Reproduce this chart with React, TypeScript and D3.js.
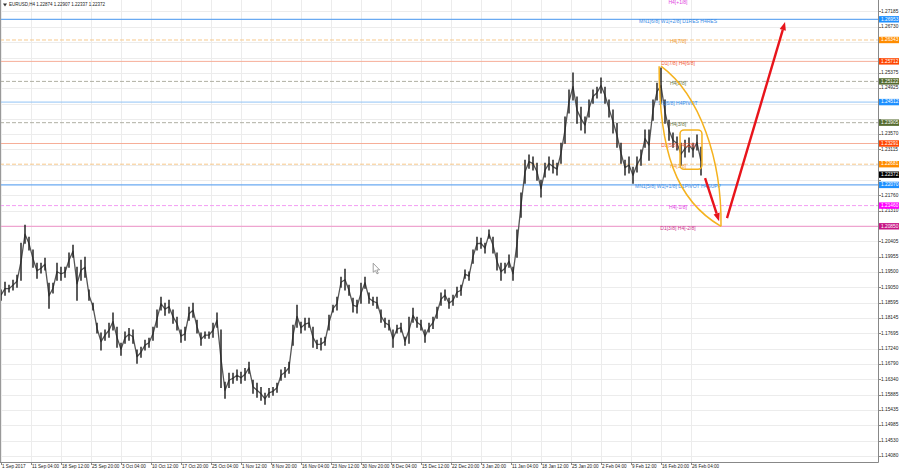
import React from "react";
import * as d3 from "d3";

// ---- data (EURUSD H4, each sample aggregates ~4 H4 bars) ----
const highs = [
  1.1897, 1.1920, 1.1911, 1.1926, 1.1941, 1.2035, 1.2088, 1.2053, 1.2015, 1.1976,
  1.1976, 1.1991, 1.1917, 1.1917, 1.1976, 1.1964, 1.1964, 1.2006, 1.2029, 1.1964,
  1.1985, 1.1994, 1.1897, 1.1858, 1.1799, 1.1770, 1.1779, 1.1799, 1.1829, 1.1787,
  1.1740, 1.1773, 1.1784, 1.1779, 1.1720, 1.1728, 1.1749, 1.1755, 1.1787, 1.1838,
  1.1876, 1.1858, 1.1867, 1.1838, 1.1817, 1.1779, 1.1787, 1.1846, 1.1858, 1.1808,
  1.1770, 1.1773, 1.1773, 1.1799, 1.1829, 1.1779, 1.1625, 1.1652, 1.1652, 1.1661,
  1.1655, 1.1666, 1.1684, 1.1631, 1.1622, 1.1610, 1.1593, 1.1607, 1.1610, 1.1622,
  1.1661, 1.1669, 1.1684, 1.1793, 1.1852, 1.1802, 1.1814, 1.1814, 1.1787, 1.1749,
  1.1755, 1.1758, 1.1823, 1.1852, 1.1876, 1.1935, 1.1958, 1.1911, 1.1873, 1.1867,
  1.1917, 1.1935, 1.1888, 1.1876, 1.1876, 1.1838, 1.1814, 1.1808, 1.1779, 1.1793,
  1.1799, 1.1758, 1.1817, 1.1843, 1.1817, 1.1808, 1.1779, 1.1799, 1.1817, 1.1846,
  1.1888, 1.1897, 1.1873, 1.1882, 1.1905, 1.1911, 1.1956, 1.1950, 1.2015, 1.2053,
  1.2050, 1.2035, 1.2074, 1.2053, 1.2006, 1.1976, 1.1976, 1.2000, 1.1964, 1.2074,
  1.2183, 1.2280, 1.2295, 1.2289, 1.2271, 1.2221, 1.2271, 1.2289, 1.2280, 1.2271,
  1.2330, 1.2407, 1.2487, 1.2537, 1.2466, 1.2436, 1.2407, 1.2457, 1.2487, 1.2495,
  1.2522, 1.2495, 1.2457, 1.2428, 1.2389, 1.2330, 1.2280, 1.2289, 1.2259, 1.2289,
  1.2310, 1.2369, 1.2369, 1.2457, 1.2507, 1.2552, 1.2457, 1.2398, 1.2360, 1.2348,
  1.2330, 1.2339, 1.2345, 1.2330, 1.2354, 1.2318,
];
const lows = [
  1.1867, 1.1882, 1.1891, 1.1897, 1.1905, 1.1926, 1.2035, 1.2015, 1.1964, 1.1932,
  1.1947, 1.1956, 1.1843, 1.1888, 1.1926, 1.1926, 1.1935, 1.1964, 1.1994, 1.1867,
  1.1926, 1.1935, 1.1867, 1.1838, 1.1770, 1.1720, 1.1749, 1.1758, 1.1779, 1.1728,
  1.1705, 1.1740, 1.1749, 1.1740, 1.1681, 1.1699, 1.1720, 1.1728, 1.1749, 1.1787,
  1.1838, 1.1823, 1.1829, 1.1799, 1.1779, 1.1743, 1.1749, 1.1808, 1.1817, 1.1770,
  1.1734, 1.1755, 1.1755, 1.1758, 1.1787, 1.1610, 1.1578, 1.1610, 1.1622, 1.1631,
  1.1622, 1.1631, 1.1652, 1.1593, 1.1581, 1.1572, 1.1560, 1.1581, 1.1587, 1.1596,
  1.1631, 1.1640, 1.1652, 1.1734, 1.1787, 1.1770, 1.1779, 1.1787, 1.1728, 1.1725,
  1.1720, 1.1734, 1.1779, 1.1832, 1.1838, 1.1905, 1.1897, 1.1882, 1.1832, 1.1829,
  1.1858, 1.1902, 1.1858, 1.1852, 1.1843, 1.1802, 1.1787, 1.1779, 1.1728, 1.1770,
  1.1773, 1.1734, 1.1740, 1.1802, 1.1787, 1.1779, 1.1743, 1.1773, 1.1784, 1.1814,
  1.1852, 1.1867, 1.1843, 1.1852, 1.1876, 1.1882, 1.1932, 1.1926, 1.1976, 1.2015,
  1.2020, 1.2006, 1.2050, 1.2006, 1.1956, 1.1926, 1.1947, 1.1964, 1.1926, 1.1994,
  1.2112, 1.2212, 1.2256, 1.2251, 1.2221, 1.2171, 1.2230, 1.2251, 1.2242, 1.2236,
  1.2271, 1.2330, 1.2419, 1.2457, 1.2389, 1.2369, 1.2360, 1.2407, 1.2448, 1.2463,
  1.2478, 1.2448, 1.2407, 1.2360, 1.2318, 1.2271, 1.2236, 1.2242, 1.2212, 1.2245,
  1.2265, 1.2318, 1.2280, 1.2398, 1.2457, 1.2448, 1.2389, 1.2339, 1.2318, 1.2310,
  1.2265, 1.2289, 1.2304, 1.2289, 1.2310, 1.2236,
];

const timeLabels = [
  "1 Sep 2017", "11 Sep 04:00", "18 Sep 12:00", "25 Sep 20:00", "3 Oct 04:00",
  "10 Oct 12:00", "17 Oct 20:00", "25 Oct 04:00", "1 Nov 12:00", "8 Nov 20:00",
  "16 Nov 04:00", "23 Nov 12:00", "30 Nov 20:00", "8 Dec 04:00", "15 Dec 12:00",
  "22 Dec 20:00", "3 Jan 20:00", "11 Jan 04:00", "18 Jan 12:00", "25 Jan 20:00",
  "2 Feb 04:00", "9 Feb 12:00", "16 Feb 20:00", "26 Feb 04:00",
];

const priceTicks = [
  "1.27185", "1.26730", "1.26280", "1.25825", "1.25375", "1.24925", "1.24470",
  "1.24020", "1.23570", "1.23115", "1.22665", "1.22210", "1.21760", "1.21310",
  "1.20855", "1.20405", "1.19955", "1.19500", "1.19050", "1.18595", "1.18145",
  "1.17695", "1.17240", "1.16790", "1.16340", "1.15885", "1.15435", "1.14985",
  "1.14530", "1.14080",
];

const levelPrices = [1.26953, 1.26343, 1.25712, 1.25122, 1.24512, 1.23905, 1.23291, 1.22681, 1.2207, 1.2146, 1.2085];
const levelNames = [
  "MN1[6/8] W1[+2/8] D1RES H4RES", "H4[7/8]", "D1[7/8] H4[6/8]", "H4[5/8]",
  "D1[6/8] H4PIVOT", "H4[3/8]", "D1[5/8] H4[2/8]", "H4[1/8]",
  "MN1[5/8] W1[+1/8] D1PIVOT H4SUPP", "H4[-1/8]", "D1[3/8] H4[-2/8]",
];
const levelKinds = ["blueMain", "orange", "red", "olive", "blue", "olive", "red", "orange", "blueMain", "magenta", "pink"];

const header = ["EURUSD,H4", "1.22874", "1.22907", "1.22337", "1.22372"];
const lastPrice = 1.22372;

// annotation anchors in (H4 bar index, price)
const lensLeft = [[702, 1.2557], [702, 1.231], [719.5, 1.2162], [768, 1.2085]];
const lensRight = [[704, 1.2557], [745.6, 1.2472], [769, 1.228], [768, 1.2085]];
const boxCorners = [[724.3, 1.2369], [747.7, 1.2253]];
const arrowDown = [[751, 1.2227], [766, 1.21]];
const arrowUp = [[774.4, 1.2109], [836.3, 1.2687]];
const cursorAt = [397, 1.1976];

// ---- styles ----
const STYLE: Record<string, { line: string; dash?: string; width: number; text: string; box: string }> = {
  blueMain: { line: "#6aaaf2", width: 1.3, text: "#3a8ce6", box: "#1e90ff" },
  blue: { line: "#92c3f5", width: 1, text: "#3a8ce6", box: "#1e90ff" },
  orange: { line: "#f7c98c", dash: "4,2", width: 1, text: "#f29a2e", box: "#ff8c00" },
  red: { line: "#f6ae98", width: 1, text: "#f0603c", box: "#ff4500" },
  olive: { line: "#b0b0a4", dash: "4,2", width: 1, text: "#6b7a48", box: "#556b2f" },
  magenta: { line: "#f39cf3", dash: "4,2", width: 1, text: "#e03fe0", box: "#ff00ff" },
  pink: { line: "#ef92c8", width: 1, text: "#c9358c", box: "#c71585" },
};

const FONT = "'Liberation Sans', Arial, sans-serif";
const SAMPLE_BARS = 32 * 4 / 30;
const BOX_H = 6.4;

export default function App() {
  const plotRight = 878;
  const plotBottom = 462;
  const x = d3.scaleLinear().domain([0, 32]).range([1, 31]);
  const y = d3.scaleLinear().domain([1.1408, 1.26953]).range([455.9, 19.3]);

  const P = (p: number[]) => [x(p[0]), y(p[1])];

  const lens = (pts: number[][]) => {
    const path = d3.path();
    const [a, b, c, d] = pts.map(P);
    path.moveTo(a[0], a[1]);
    path.bezierCurveTo(b[0], b[1], c[0], c[1], d[0], d[1]);
    return path.toString();
  };

  const arrow = (pts: number[][], key: string) => {
    const [s, e] = pts.map(P);
    const dx = e[0] - s[0], dy = e[1] - s[1];
    const len = Math.hypot(dx, dy);
    const ux = dx / len, uy = dy / len;
    const hl = 8, hw = 3.2;
    const bx = e[0] - ux * hl, by = e[1] - uy * hl;
    const head = `M${e[0]},${e[1]} L${bx - uy * hw},${by + ux * hw} L${bx + uy * hw},${by - ux * hw} Z`;
    return (
      <g key={key}>
        <line x1={s[0]} y1={s[1]} x2={bx} y2={by} stroke="#e8141b" strokeWidth={2.4} />
        <path d={head} fill="#e8141b" />
      </g>
    );
  };

  const priceLine = d3
    .line<number>()
    .x((_, i) => x(i * SAMPLE_BARS))
    .y((h, i) => y((h + lows[i]) / 2))(highs);

  const [c0, c1] = boxCorners.map(P);
  const [cx, cy] = P(cursorAt);

  const boxYs = [...levelPrices, lastPrice].map((p) => y(p));
  const visibleTicks = priceTicks.filter((t) => boxYs.every((by) => Math.abs(by - y(+t)) > BOX_H - 1.5));

  return (
    <svg width={900} height={472} style={{ position: "absolute", left: 0, top: 0, background: "#fff" }} fontFamily={FONT}>
      <rect x={0} y={0} width={900} height={472} fill="#fff" />
      {/* grid */}
      {priceTicks.map((t) => (
        <line key={"gh" + t} x1={0} x2={plotRight} y1={Math.round(y(+t)) + 0.5} y2={Math.round(y(+t)) + 0.5} stroke="#ececec" strokeWidth={1} />
      ))}
      {timeLabels.map((t, j) => (
        <line key={"gv" + t} x1={Math.round(x(32 * j)) + 0.5} x2={Math.round(x(32 * j)) + 0.5} y1={0} y2={plotBottom} stroke="#ececec" strokeWidth={1} />
      ))}

      {/* level lines */}
      {levelPrices.map((p, k) => {
        const s = STYLE[levelKinds[k]];
        return (
          <line key={"lv" + k} x1={0} x2={plotRight} y1={y(p)} y2={y(p)} stroke={s.line} strokeWidth={s.width} strokeDasharray={s.dash} />
        );
      })}

      {/* price bars */}
      <path d={priceLine ?? ""} fill="none" stroke="#555" strokeWidth={1.3} strokeLinejoin="round" />
      {highs.map((h, i) => (
        <line key={"b" + i} x1={x(i * SAMPLE_BARS)} x2={x(i * SAMPLE_BARS)} y1={y(h) - 0.5} y2={y(lows[i]) + 0.5} stroke="#262626" strokeWidth={1.5} />
      ))}

      {/* level texts */}
      {levelPrices.map((p, k) => {
        const s = STYLE[levelKinds[k]];
        return (
          <text key={"lt" + k} x={678} y={y(p) + 2} fontSize={5} fill={s.text} textAnchor="middle" dominantBaseline="middle">
            {levelNames[k]}
          </text>
        );
      })}
      <text x={678} y={2.5} fontSize={5} fill="#e03fe0" textAnchor="middle" dominantBaseline="middle">H4[+1/8]</text>

      {/* annotations */}
      <path d={lens(lensLeft)} fill="none" stroke="#f5b21e" strokeWidth={1.5} />
      <path d={lens(lensRight)} fill="none" stroke="#f5b21e" strokeWidth={1.5} />
      <rect x={c0[0]} y={c0[1]} width={c1[0] - c0[0]} height={c1[1] - c0[1]} rx={4} fill="none" stroke="#f5b21e" strokeWidth={1.5} />
      {arrow(arrowDown, "a1")}
      {arrow(arrowUp, "a2")}
      <path
        transform={`translate(${cx},${cy})`}
        d="M0,0 L0,9 L2.2,7.2 L3.8,10.6 L5.1,10 L3.6,6.7 L6.4,6.6 Z"
        fill="#fff"
        stroke="#777"
        strokeWidth={0.7}
      />

      {/* frame */}
      <line x1={0.5} x2={0.5} y1={0} y2={plotBottom} stroke="#999" />
      <line x1={plotRight + 0.5} x2={plotRight + 0.5} y1={0} y2={plotBottom + 0.5} stroke="#888" />
      <line x1={0} x2={plotRight + 0.5} y1={plotBottom + 0.5} y2={plotBottom + 0.5} stroke="#888" />

      {/* price axis */}
      {priceTicks.map((t) => (
        <line key={"ptk" + t} x1={plotRight} x2={plotRight + 3} y1={Math.round(y(+t)) + 0.5} y2={Math.round(y(+t)) + 0.5} stroke="#888" />
      ))}
      {visibleTicks.map((t) => (
        <text key={"pt" + t} x={881} y={y(+t)} fontSize={4.8} fill="#222" dominantBaseline="middle">{t}</text>
      ))}
      {levelPrices.map((p, k) => {
        const s = STYLE[levelKinds[k]];
        return (
          <g key={"lb" + k}>
            <rect x={879} y={y(p) - BOX_H / 2} width={20} height={BOX_H} fill={s.box} />
            <text x={881} y={y(p)} fontSize={4.8} fill="#fff" dominantBaseline="middle">{p.toFixed(5)}</text>
          </g>
        );
      })}
      <rect x={879} y={y(lastPrice) - BOX_H / 2} width={20} height={BOX_H} fill="#000" />
      <text x={881} y={y(lastPrice)} fontSize={4.8} fill="#fff" dominantBaseline="middle">{lastPrice.toFixed(5)}</text>

      {/* time axis */}
      {timeLabels.map((t, j) => (
        <g key={"tl" + t}>
          <line x1={Math.round(x(32 * j)) + 0.5} x2={Math.round(x(32 * j)) + 0.5} y1={plotBottom} y2={plotBottom + 3} stroke="#888" />
          <text x={x(32 * j) + 1} y={467} fontSize={4.6} fill="#222" dominantBaseline="middle">{t}</text>
        </g>
      ))}

      {/* header */}
      <path d="M3,3.5 L7,3.5 L5,6.5 Z" fill="#333" />
      <text x={9} y={5.2} fontSize={4.5} fill="#222" dominantBaseline="middle">
        {header.join("  ")}
      </text>
    </svg>
  );
}
